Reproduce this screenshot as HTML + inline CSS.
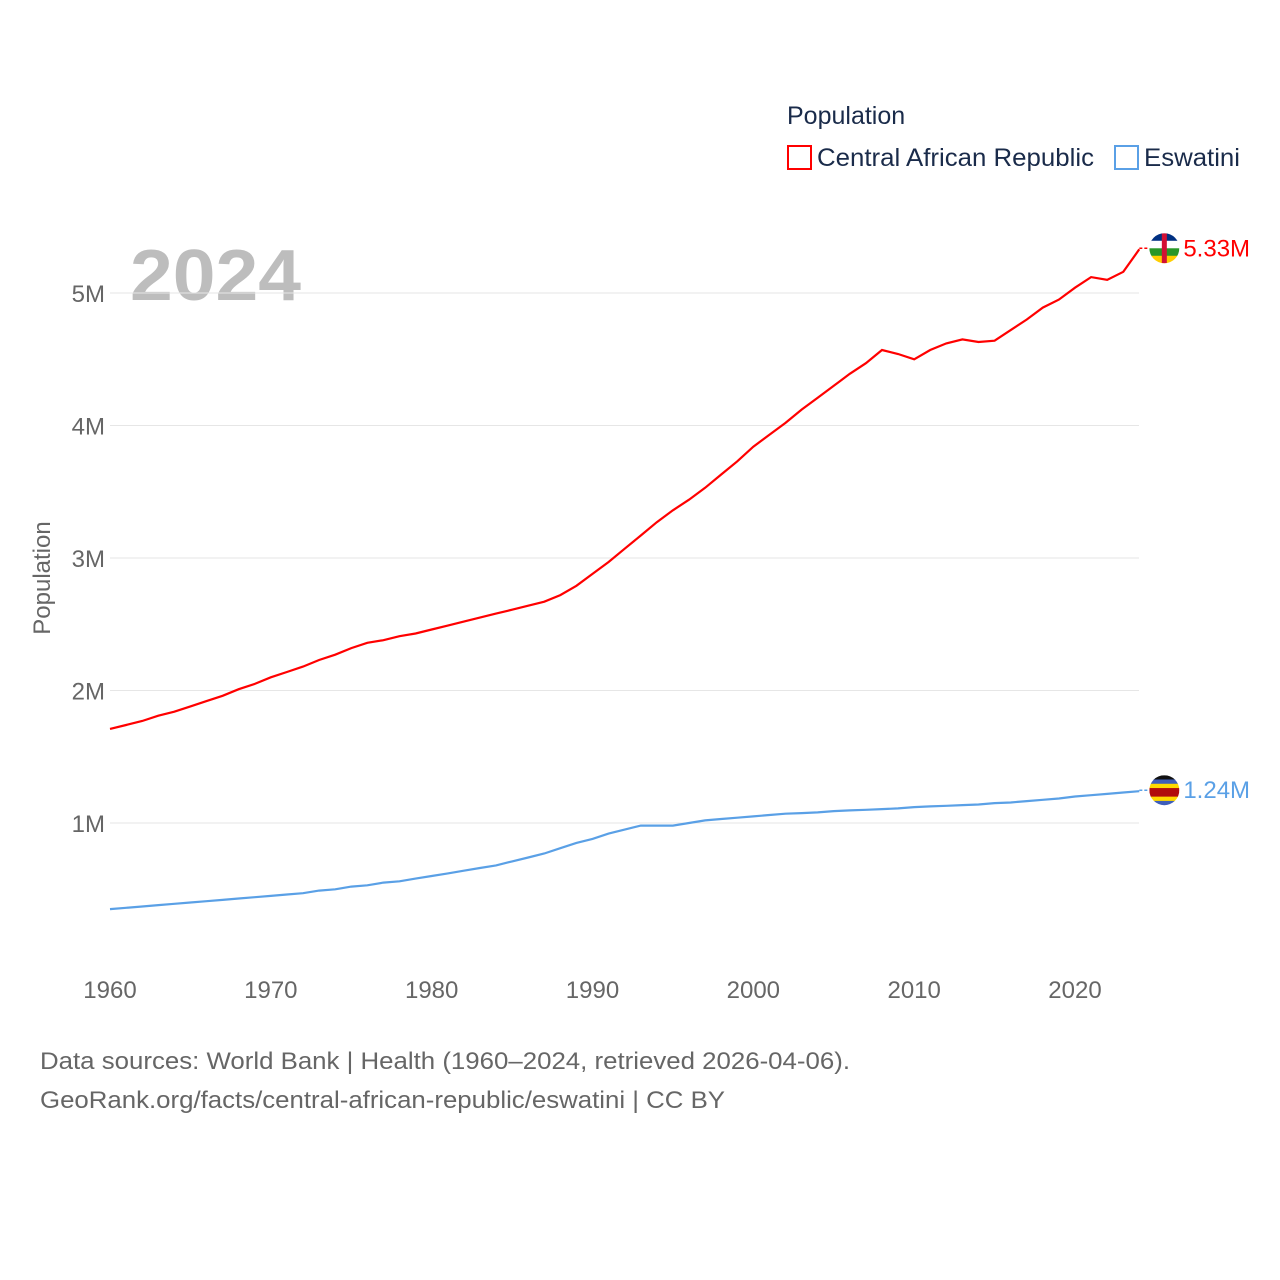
<!DOCTYPE html>
<html><head><meta charset="utf-8"><style>
html,body{margin:0;padding:0;background:#fff;width:1280px;height:1280px;overflow:hidden;font-family:"Liberation Sans",sans-serif}
</style></head><body>
<svg id="chart" width="1280" height="1280" xmlns="http://www.w3.org/2000/svg" font-family="Liberation Sans, sans-serif">
<text x="787" y="124" font-size="25" fill="#1a2b4a">Population</text>
<g><rect x="788" y="146" width="23" height="23" fill="none" stroke="#ff0000" stroke-width="2"/><text x="817" y="166" font-size="25" fill="#1a2b4a" textLength="277" lengthAdjust="spacingAndGlyphs">Central African Republic</text></g>
<g><rect x="1115" y="146" width="23" height="23" fill="none" stroke="#5aa0e6" stroke-width="2"/><text x="1144" y="166" font-size="25" fill="#1a2b4a" textLength="96" lengthAdjust="spacingAndGlyphs">Eswatini</text></g>
<text x="130" y="300" font-size="72" font-weight="bold" fill="#bdbdbd" textLength="171" lengthAdjust="spacingAndGlyphs">2024</text>
<text transform="translate(50,578) rotate(-90)" text-anchor="middle" font-size="24" fill="#666">Population</text>
<g id="grid"></g><g id="xt"></g><g id="lines"></g>
<text x="40" y="1069" font-size="24" fill="#666" textLength="810" lengthAdjust="spacingAndGlyphs">Data sources: World Bank | Health (1960–2024, retrieved 2026-04-06).</text>
<text x="40" y="1108" font-size="24" fill="#666" textLength="685" lengthAdjust="spacingAndGlyphs">GeoRank.org/facts/central-african-republic/eswatini | CC BY</text>
</svg>
<script>
const years=[];for(let y=1960;y<=2024;y++)years.push(y);
const carValues=[1.71,1.74,1.77,1.81,1.84,1.88,1.92,1.96,2.01,2.05,2.10,2.14,2.18,2.23,2.27,2.32,2.36,2.38,2.41,2.43,2.46,2.49,2.52,2.55,2.58,2.61,2.64,2.67,2.72,2.79,2.88,2.97,3.07,3.17,3.27,3.36,3.44,3.53,3.63,3.73,3.84,3.93,4.02,4.12,4.21,4.30,4.39,4.47,4.57,4.54,4.50,4.57,4.62,4.65,4.63,4.64,4.72,4.80,4.89,4.95,5.04,5.12,5.10,5.16,5.33];
const swzValues=[0.35,0.36,0.37,0.38,0.39,0.40,0.41,0.42,0.43,0.44,0.45,0.46,0.47,0.49,0.50,0.52,0.53,0.55,0.56,0.58,0.60,0.62,0.64,0.66,0.68,0.71,0.74,0.77,0.81,0.85,0.88,0.92,0.95,0.98,0.98,0.98,1.00,1.02,1.03,1.04,1.05,1.06,1.07,1.075,1.08,1.09,1.095,1.10,1.105,1.11,1.12,1.125,1.13,1.135,1.14,1.15,1.155,1.165,1.175,1.185,1.20,1.21,1.22,1.23,1.24];
const yTicks=[1,2,3,4,5];
const xTicks=[1960,1970,1980,1990,2000,2010,2020];
const NS="http://www.w3.org/2000/svg";
const X=y=>110+(y-1960)*(965/60);
const Y=v=>955.5-v*132.5;
function mk(t,a,p){const e=document.createElementNS(NS,t);for(const k in a)e.setAttribute(k,a[k]);p.appendChild(e);return e;}
const grid=document.getElementById('grid');
yTicks.forEach(v=>{
 const l=mk('line',{x1:110,x2:1139,y1:Y(v),y2:Y(v),stroke:'#e6e6e6','stroke-width':1},grid);
 
 
 const t=mk('text',{x:105,y:Y(v)+9,'text-anchor':'end','font-size':24,fill:'#666'},grid);
 
 
 t.textContent=v+'M';
});
const xt=document.getElementById('xt');
xTicks.forEach(v=>{
 const t=mk('text',{x:X(v),y:998,'text-anchor':'middle','font-size':24,fill:'#666'},xt);
 
 
 t.textContent=v;
});
const lines=document.getElementById('lines');
function series(vals,color,name,label,flag){
 const d=vals.map((v,i)=>(i?'L':'M')+X(years[i]).toFixed(1)+','+Y(v).toFixed(1)).join('');
 const p=mk('path',{d:d,fill:'none',stroke:color,'stroke-width':2.2},lines);
 
 
 const lv=vals[vals.length-1],lx=X(2024),ly=Y(lv)-1;
 mk('line',{x1:lx,x2:lx+10,y1:ly,y2:ly,stroke:color,'stroke-width':1.5,'stroke-dasharray':'3,2'},lines);
 const g=mk('g',{},lines);
 
 
 const cx=lx+25;
 mk('clipPath',{id:'c'+name},g).appendChild(document.createElementNS(NS,'circle')).setAttribute('r','15');
 document.querySelector('#c'+name+' circle').setAttribute('cx',cx);
 document.querySelector('#c'+name+' circle').setAttribute('cy',ly);
 const fg=mk('g',{'clip-path':'url(#c'+name+')'},g);
 flag.forEach((c,i)=>mk('rect',{x:cx-15,y:ly-15+i*30/flag.length,width:30,height:30/flag.length+0.5,fill:c},fg));
 if(name==='car')mk('rect',{x:cx-2.5,y:ly-15,width:5,height:30,fill:'#d21034'},fg);
 const t=mk('text',{x:lx+44,y:ly+8,'font-size':24,fill:color},lines);
 
 
 t.textContent=label;
}
series(carValues,'#ff0000','car','5.33M',['#003082','#ffffff','#289728','#ffce00']);
series(swzValues,'#5aa0e6','eswatini','1.24M',['#111','#3e5eb9','#ffd900','#b10c0c','#b10c0c','#ffd900','#3e5eb9']);
</script>
</body></html>
